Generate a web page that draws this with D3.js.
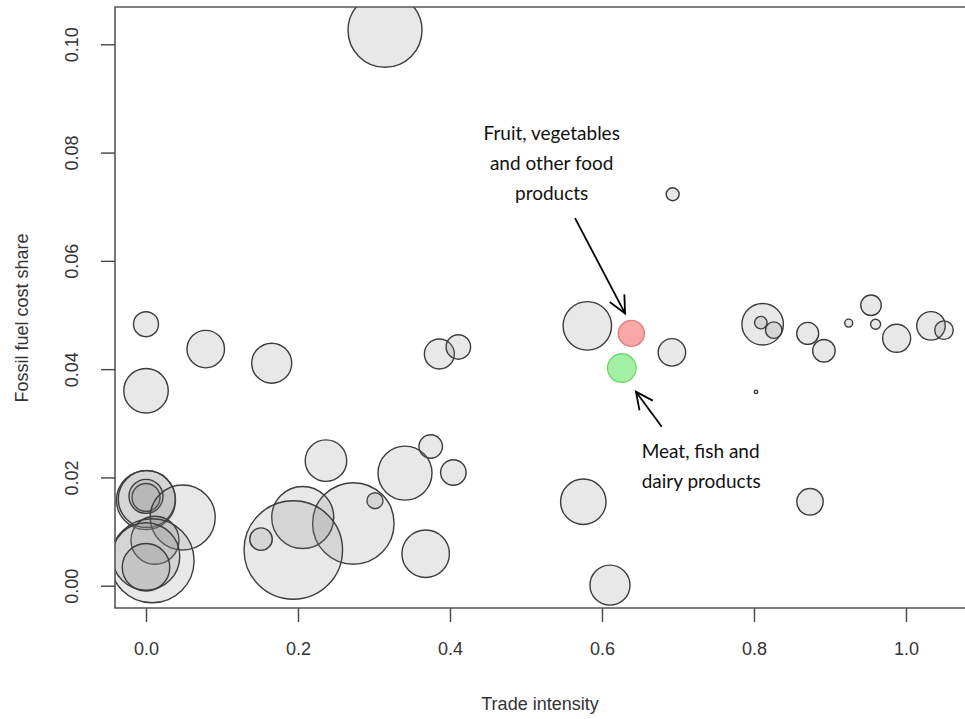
<!DOCTYPE html>
<html>
<head>
<meta charset="utf-8">
<script src="https://cdn.jsdelivr.net/npm/d3@7"></script>
<style>
  html, body { margin: 0; padding: 0; background: #fff; }
  svg { display: block; }
</style>
</head>
<body>
<svg id="chart" width="965" height="719"></svg>
<script>
// Sectors: trade intensity (x), fossil fuel cost share (y), bubble size (sector output)
const tradeIntensity = [
  0.3145, 0.693, 0.000, 0.0786, 0.1654, 0.000, 0.386, 0.411, 0.5807, 0.692,
  0.8114, 0.809, 0.826, 0.8707, 0.892, 0.9246, 0.954, 0.960, 0.9877, 1.0329,
  1.050, 0.8026, 0.2368, 0.3408, 0.3746, 0.4044, 0.3013, 0.2728, 0.2062, 0.1938,
  0.1513, 0.368, 0.5754, 0.6105, 0.8737, 0.000, 0.001, 0.000, 0.000, 0.0483,
  0.0118, 0.008, 0.000, 0.000
];
const fossilShare = [
  0.1026, 0.0723, 0.0483, 0.0437, 0.0411, 0.0360, 0.0428, 0.0441, 0.0480, 0.0431,
  0.0483, 0.0486, 0.0472, 0.0466, 0.0434, 0.0485, 0.0518, 0.0483, 0.0457, 0.0480,
  0.0472, 0.0358, 0.0231, 0.0208, 0.0257, 0.0209, 0.0157, 0.0115, 0.0126, 0.0066,
  0.0086, 0.0059, 0.0155, 0.0001, 0.0155, 0.0158, 0.0160, 0.0163, 0.0165, 0.0126,
  0.0084, 0.0046, 0.0054, 0.0034
];
const sectorOutput = [
  7.4, 1.3, 2.5, 3.75, 4.0, 4.45, 3.0, 2.45, 4.85, 2.75,
  4.15, 1.25, 1.65, 2.2, 2.25, 0.8, 2.05, 1.0, 2.8, 2.85,
  1.85, 0.35, 4.15, 5.4, 2.35, 2.55, 1.6, 8.15, 6.2, 9.85,
  2.25, 4.75, 4.55, 4.0, 2.65, 5.9, 5.7, 2.8, 3.4, 6.5,
  4.8, 8.4, 6.75, 4.75
];

// Highlighted food sectors
const highlightNames = ["Fruit, vegetables and other food products", "Meat, fish and dairy products"];
const highlightX = [0.6386, 0.626];
const highlightY = [0.0466, 0.0402];
const highlightSize = [2.6, 2.85];

const xTicks = [0, 0.2, 0.4, 0.6, 0.8, 1.0];
const yTicks = [0, 0.02, 0.04, 0.06, 0.08, 0.10];

const xTitle = "Trade intensity";
const yTitle = "Fossil fuel cost share";

// Annotation labels (data coordinates of text anchors and arrows)
const fruitLines = ["Fruit, vegetables", "and other food", "products"];
const meatLines = ["Meat, fish and", "dairy products"];

const svg = d3.select("#chart");
const W = 965, H = 719;
const m = { left: 115, top: 7, right: 968, bottom: 608 };

const x = d3.scaleLinear().domain([-0.0408, 1.0816]).range([m.left, m.right]);
const y = d3.scaleLinear().domain([-0.00412, 0.10689]).range([m.bottom, m.top]);
const r = d3.scaleLinear().domain([0, 10]).range([0, 50]);

svg.append("rect").attr("width", W).attr("height", H).attr("fill", "#fff");

svg.append("defs").append("clipPath").attr("id", "plotClip")
  .append("rect")
  .attr("x", m.left).attr("y", m.top)
  .attr("width", m.right - m.left).attr("height", m.bottom - m.top);

const plot = svg.append("g").attr("clip-path", "url(#plotClip)");

const sectors = tradeIntensity.map((t, i) => ({ t, f: fossilShare[i], s: sectorOutput[i] }));

plot.selectAll("circle.sector")
  .data(sectors)
  .join("circle")
  .attr("class", "sector")
  .attr("cx", d => x(d.t))
  .attr("cy", d => y(d.f))
  .attr("r", d => r(d.s))
  .attr("fill", "rgba(128,128,128,0.18)")
  .attr("stroke", "#3c3c3c")
  .attr("stroke-width", 1.4);

const hiColors = [
  { fill: "rgba(245,110,110,0.6)", stroke: "#e57a80" },
  { fill: "rgba(100,230,100,0.6)", stroke: "#72d872" }
];
plot.selectAll("circle.highlight")
  .data(highlightNames.map((n, i) => ({ n, t: highlightX[i], f: highlightY[i], s: highlightSize[i], c: hiColors[i] })))
  .join("circle")
  .attr("class", "highlight")
  .attr("cx", d => x(d.t))
  .attr("cy", d => y(d.f))
  .attr("r", d => r(d.s))
  .attr("fill", d => d.c.fill)
  .attr("stroke", d => d.c.stroke)
  .attr("stroke-width", 1.4);

// Frame
svg.append("path")
  .attr("d", `M${m.right},${m.top}H${m.left}V${m.bottom}H${m.right}`)
  .attr("fill", "none")
  .attr("stroke", "#555")
  .attr("stroke-width", 1.6);

// Axes
const axisFont = "'Liberation Sans', Arial, sans-serif";
const xAxis = svg.append("g")
  .attr("transform", `translate(0,${m.bottom})`)
  .call(d3.axisBottom(x).tickValues(xTicks).tickFormat(d3.format(".1f")).tickSize(14).tickPadding(20));
xAxis.select(".domain").remove();
xAxis.selectAll(".tick line").attr("stroke", "#444").attr("stroke-width", 1.4);
xAxis.selectAll(".tick text")
  .attr("font-family", axisFont).attr("font-size", 18).attr("fill", "#333");

const yAxis = svg.append("g")
  .attr("transform", `translate(${m.left},0)`)
  .call(d3.axisLeft(y).tickValues(yTicks).tickFormat(d3.format(".2f")).tickSize(14));
yAxis.select(".domain").remove();
yAxis.selectAll(".tick line").attr("stroke", "#444").attr("stroke-width", 1.4);
yAxis.selectAll(".tick text")
  .attr("font-family", axisFont).attr("font-size", 18).attr("fill", "#333")
  .attr("x", null).attr("dy", null)
  .attr("text-anchor", "middle")
  .attr("dominant-baseline", "central")
  .attr("transform", "translate(-43,0) rotate(-90)");

svg.append("text")
  .attr("x", 540).attr("y", 710)
  .attr("text-anchor", "middle")
  .attr("font-family", axisFont).attr("font-size", 18).attr("fill", "#333")
  .text(xTitle);

svg.append("text")
  .attr("transform", "translate(28,318) rotate(-90)")
  .attr("text-anchor", "middle")
  .attr("font-family", axisFont).attr("font-size", 18).attr("fill", "#333")
  .text(yTitle);

// Annotations
const noteFont = "Lato, 'Open Sans', sans-serif";
function drawArrow(x0, y0, x1, y1) {
  const px0 = x(x0), py0 = y(y0), px1 = x(x1), py1 = y(y1);
  const a = Math.atan2(py1 - py0, px1 - px0);
  const len = 19, spread = Math.PI / 7;
  const g = svg.append("g").attr("stroke", "#000").attr("stroke-width", 1.8).attr("fill", "none");
  g.append("line").attr("x1", px0).attr("y1", py0).attr("x2", px1).attr("y2", py1);
  g.append("path").attr("d",
    `M${px1 - len * Math.cos(a - spread)},${py1 - len * Math.sin(a - spread)}` +
    `L${px1},${py1}` +
    `L${px1 - len * Math.cos(a + spread)},${py1 - len * Math.sin(a + spread)}`);
}

svg.append("g").selectAll("text")
  .data(fruitLines)
  .join("text")
  .attr("x", x(0.5338))
  .attr("y", (d, i) => y(0.0824) + i * 30)
  .attr("text-anchor", "middle")
  .attr("font-family", noteFont).attr("font-size", 19).attr("fill", "#111")
  .text(d => d);
drawArrow(0.5645, 0.0679, 0.6303, 0.0503);

svg.append("g").selectAll("text")
  .data(meatLines)
  .join("text")
  .attr("x", x(0.6522))
  .attr("y", (d, i) => y(0.0236) + i * 30)
  .attr("text-anchor", "start")
  .attr("font-family", noteFont).attr("font-size", 19).attr("fill", "#111")
  .text(d => d);
drawArrow(0.6786, 0.02937, 0.6447, 0.03583);
</script>
</body>
</html>
